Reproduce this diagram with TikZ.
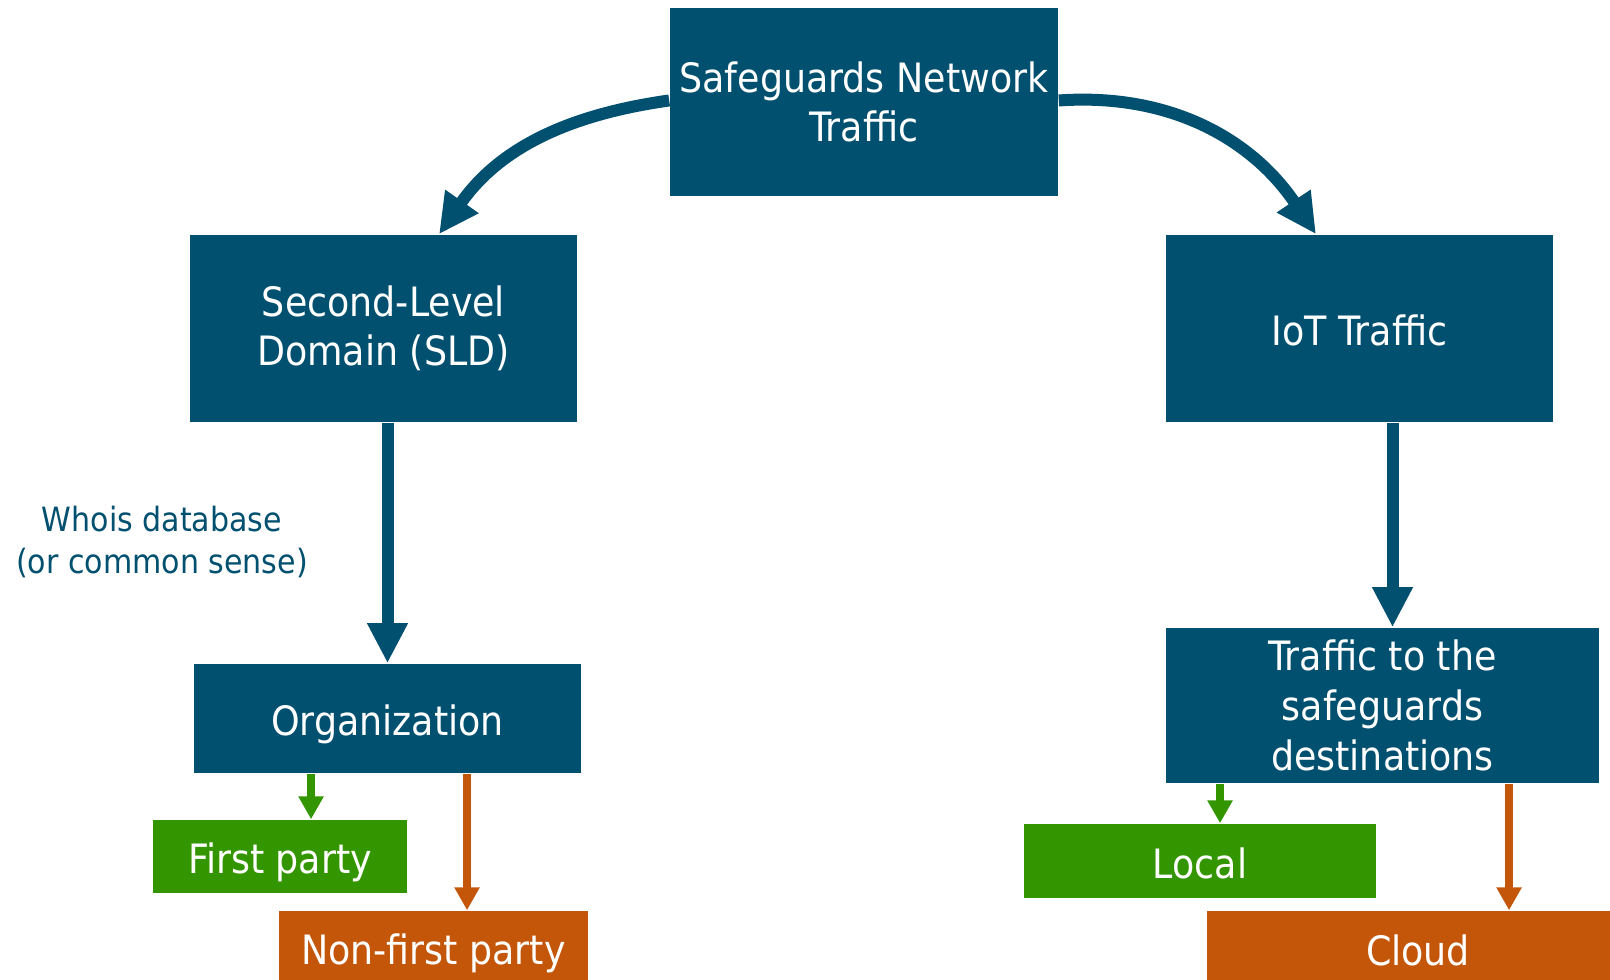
\documentclass[tikz,border=0pt]{standalone}
\usepackage{fontspec}
\setmainfont{DejaVu Sans Condensed}
\usetikzlibrary{arrows.meta,positioning}
\definecolor{cNavy}{RGB}{2,80,111}
\definecolor{cGreen}{RGB}{51,150,0}
\definecolor{cOrange}{RGB}{196,86,10}
\tikzset{
	navybox/.style={fill=cNavy, text=white, align=center, inner sep=0pt,
		font=\fontsize{11.5}{14.1}\selectfont},
	greenbox/.style={fill=cGreen, text=white, align=center, inner sep=0pt,
		font=\fontsize{11.5}{14.1}\selectfont},
	orangebox/.style={fill=cOrange, text=white, align=center, inner sep=0pt,
		font=\fontsize{11.5}{14.1}\selectfont},
	barr/.style={-{Triangle[length=0.4cm,width=0.38cm]}, line width=0.12cm,
		draw=cNavy},
	garr/.style={-{Triangle[length=0.23cm,width=0.24cm]}, line width=0.08cm,
		draw=cGreen},
	oarr/.style={-{Triangle[length=0.23cm,width=0.24cm]}, line width=0.08cm,
		draw=cOrange},
}
% lower a one-line label inside its box
\newcommand{\lowered}[2]{\raisebox{-#1}[\height][\depth]{#2}}

\begin{document}
\begin{tikzpicture}[x=0.01cm, y=0.01cm]
	\useasboundingbox (0,0) rectangle (1610,980);
	% boxes
	\node[navybox, minimum width=3.88cm, minimum height=1.87cm] (sng) at (864,878) {Safeguards Network\\Traffic};
	\node[navybox, minimum width=3.87cm, minimum height=1.87cm] (sld) at (383.5,651.5) {Second-Level\\Domain (SLD)};
	\node[navybox, minimum width=3.87cm, minimum height=1.87cm] (iot) at (1359.5,651.5) {\lowered{0.02cm}{IoT Traffic}};
	\node[navybox, minimum width=3.87cm, minimum height=1.09cm] (org) at (387.5,261.5) {\lowered{0.06cm}{Organization}};
	\node[navybox, minimum width=4.33cm, minimum height=1.55cm] (dest) at (1382.5,274.5) {Traffic to the\\safeguards\\destinations};
	\node[greenbox, minimum width=2.54cm, minimum height=0.73cm] (first) at (280,123.5) {\lowered{0.06cm}{First party}};
	\node[orangebox, minimum width=3.09cm, minimum height=0.78cm] (nonfirst) at (433.5,30) {\lowered{0.03cm}{Non-first party}};
	\node[greenbox, minimum width=3.52cm, minimum height=0.74cm] (local) at (1200,119) {\lowered{0.02cm}{Local}};
	\node[orangebox, minimum width=4.22cm, minimum height=0.78cm] (cloud) at (1418,30) {Cloud};
	\node[text=cNavy, align=center, font=\fontsize{9.5}{11.7}\selectfont] (whois) at (162,438) {Whois database\\(or common sense)};
	% arrows
	\draw[barr] ([yshift=0.015cm]sng.west) to[out=188, in=55] ([xshift=0.555cm]sld.north);
	\draw[barr] ([yshift=0.015cm]sng.east) to[out=4, in=124] ([xshift=-0.435cm]iot.north);
	\draw[barr] (sld.south -| org.north) -- (org.north);
	\draw[barr] ([xshift=0.1cm]dest.north |- iot.south) -- ([xshift=0.1cm]dest.north);
	\draw[garr] ([xshift=0.31cm]first.north |- org.south) -- ([xshift=0.31cm]first.north);
	\draw[oarr] ([xshift=0.335cm]nonfirst.north |- org.south) -- ([xshift=0.335cm]nonfirst.north);
	\draw[garr] ([xshift=0.2cm]local.north |- dest.south) -- ([xshift=0.2cm]local.north);
	\draw[oarr] ([xshift=0.91cm]cloud.north |- dest.south) -- ([xshift=0.91cm]cloud.north);
\end{tikzpicture}
\end{document}
